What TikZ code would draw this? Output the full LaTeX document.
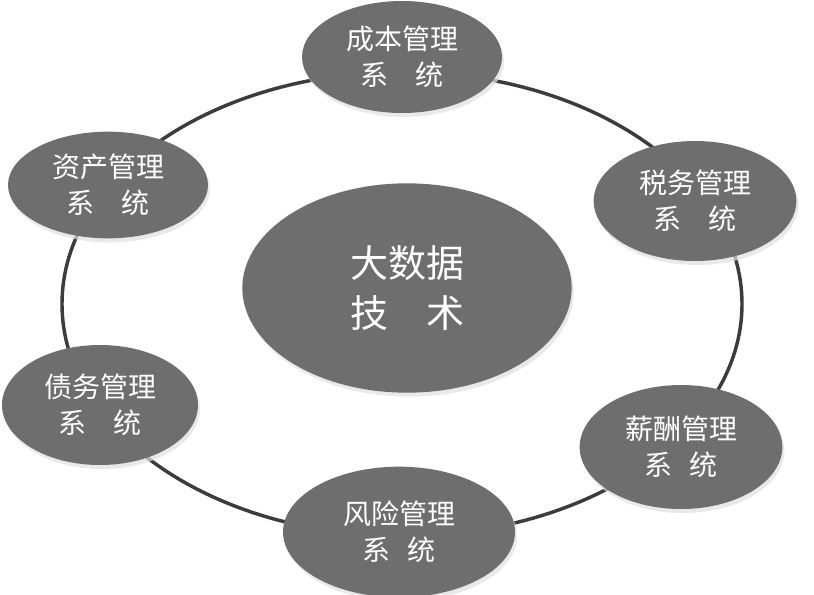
\documentclass[tikz,border=0pt]{standalone}
\usepackage{xcolor}
\usepackage{fontspec}
\setmainfont{Noto Sans CJK SC}
\usepackage{tikz}
\usetikzlibrary{positioning, shapes.geometric, shadows}

\definecolor{nodegray}{HTML}{6E6E6E}
\definecolor{ringgray}{HTML}{3C3C3C}

\begin{document}
\begin{tikzpicture}[x=0.75pt, y=-0.75pt,
    sysnode/.style={ellipse, fill=nodegray, text=white, align=center, inner sep=0pt,
      font=\fontsize{21}{27}\selectfont,
      drop shadow={shadow xshift=1.5pt, shadow yshift=-3pt, fill=black!12, opacity=0.7}},
    corenode/.style={sysnode, font=\fontsize{28.5}{37.5}\selectfont}]
      \useasboundingbox[fill=white] (0, 0) rectangle (814, 594);

      \draw[ringgray, line width=2.6pt] (402, 304) ellipse [x radius=255pt, y radius=174pt];

      \node[corenode, minimum width=247pt, minimum height=157pt] (core) at (407, 288) {大数据\\技\quad 术};

      \node[sysnode, minimum width=150pt, minimum height=84pt] (cost) at (402, 57) {成本管理\\系\quad 统};
      \node[sysnode, minimum width=152pt, minimum height=90pt] (tax) at (695, 201) {税务管理\\系\quad 统};
      \node[sysnode, minimum width=152pt, minimum height=93pt] (salary) at (681, 447) {薪酬管理\\系\hspace{0.6em}统};
      \node[sysnode, minimum width=174pt, minimum height=98pt] (risk) at (399, 532) {风险管理\\系\hspace{0.6em}统};
      \node[sysnode, minimum width=147pt, minimum height=90pt] (debt) at (100, 405) {债务管理\\系\quad 统};
      \node[sysnode, minimum width=150pt, minimum height=80pt] (asset) at (108, 185) {资产管理\\系\quad 统};
\end{tikzpicture}
\end{document}
